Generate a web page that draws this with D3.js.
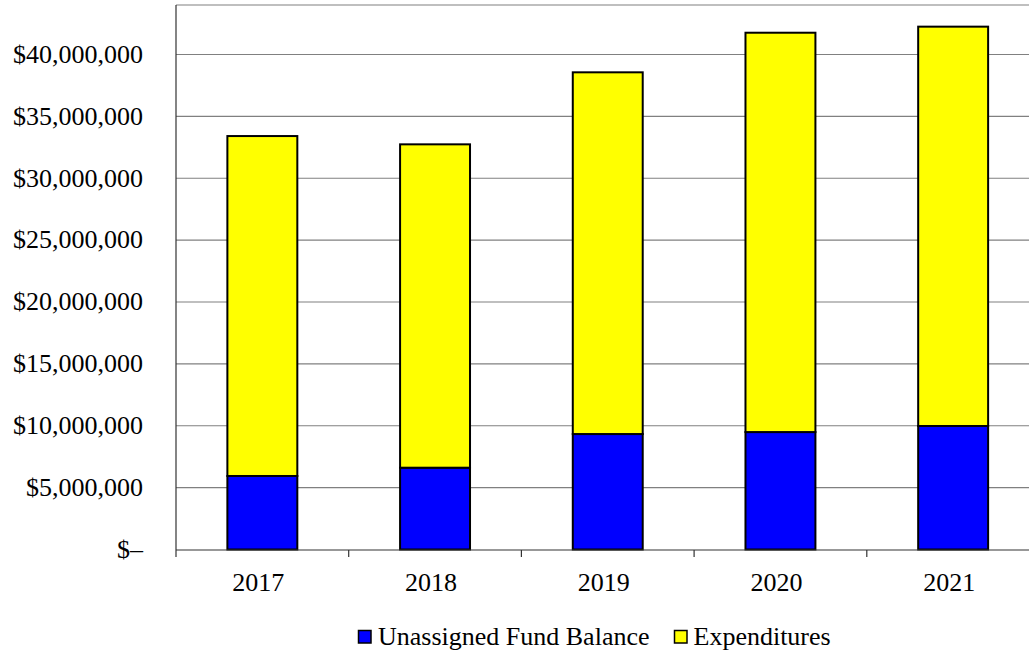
<!DOCTYPE html>
<html>
<head>
<meta charset="utf-8">
<script src="https://cdn.jsdelivr.net/npm/d3@7/dist/d3.min.js"></script>
<style>
  html, body { margin: 0; padding: 0; background: #fff; }
  svg { display: block; }
  text { font-family: "Liberation Serif", "Times New Roman", serif; fill: #000; }
</style>
</head>
<body>
<svg id="chart" width="1029" height="653"></svg>
<script>
const years = ["2017", "2018", "2019", "2020", "2021"];
const fundBalance = [5940000, 6610000, 9330000, 9490000, 9980000];
const expenditures = [27470000, 26130000, 29230000, 32270000, 32270000];
const yTicks = [0, 5000000, 10000000, 15000000, 20000000, 25000000, 30000000, 35000000, 40000000];
const seriesNames = ["Unassigned Fund Balance", "Expenditures"];
const seriesColors = ["#0000FF", "#FFFF00"];

const svg = d3.select("#chart");
const pLeft = 176, pRight = 1039.5, pTop = 5, pBottom = 549.5;

const x = d3.scaleBand().domain(years).range([pLeft, pRight]).padding(0);
const y = d3.scaleLinear().domain([0, 44000000]).range([pBottom, pTop]);

// gridlines
svg.append("g").selectAll("line").data(yTicks.filter(d => d > 0)).join("line")
  .attr("x1", pLeft).attr("x2", pRight)
  .attr("y1", d => y(d)).attr("y2", d => y(d))
  .attr("stroke", "#808080").attr("stroke-width", 1.2);
// top border
svg.append("line").attr("x1", pLeft).attr("x2", pRight).attr("y1", pTop).attr("y2", pTop)
  .attr("stroke", "#808080").attr("stroke-width", 1.2);

// y labels
const fmt = d3.format(",");
svg.append("g").selectAll("text").data(yTicks).join("text")
  .attr("x", 143).attr("y", d => y(d)).attr("dy", "0.32em")
  .attr("text-anchor", "end").attr("font-size", 26)
  .text(d => d === 0 ? "$\u2013" : "$" + fmt(d));

// stacked bars
const data = years.map((yr, i) => ({ year: yr, vals: [fundBalance[i], expenditures[i]] }));
const barW = x.bandwidth() * 0.405;
data.forEach(d => {
  let base = 0;
  d.vals.forEach((v, si) => {
    const cx = x(d.year) + x.bandwidth() / 2;
    svg.append("rect")
      .attr("x", cx - barW / 2)
      .attr("y", y(base + v))
      .attr("width", barW)
      .attr("height", y(base) - y(base + v))
      .attr("fill", seriesColors[si])
      .attr("stroke", "#000").attr("stroke-width", 2);
    base += v;
  });
});

// axes lines
svg.append("line").attr("x1", pLeft).attr("x2", pLeft).attr("y1", pTop).attr("y2", pBottom + 0.5)
  .attr("stroke", "#333").attr("stroke-width", 1.2);
svg.append("line").attr("x1", pLeft).attr("x2", pRight).attr("y1", pBottom + 0.5).attr("y2", pBottom + 0.5)
  .attr("stroke", "#333").attr("stroke-width", 1.2);

// x ticks at band boundaries
const bounds = years.map(yr => x(yr)).concat([x(years[years.length - 1]) + x.bandwidth()]);
svg.append("g").selectAll("line").data(bounds).join("line")
  .attr("x1", d => d).attr("x2", d => d)
  .attr("y1", pBottom + 0.5).attr("y2", pBottom + 7.5)
  .attr("stroke", "#333").attr("stroke-width", 1.2);

// x labels
svg.append("g").selectAll("text").data(years).join("text")
  .attr("x", d => x(d) + x.bandwidth() / 2 - 4)
  .attr("y", 590.7)
  .attr("text-anchor", "middle").attr("font-size", 26)
  .text(d => d);

// legend
const legendItems = [
  { name: seriesNames[0], color: seriesColors[0], bx: 358.5, tx: 378 },
  { name: seriesNames[1], color: seriesColors[1], bx: 674.5, tx: 693.5 }
];
legendItems.forEach(it => {
  svg.append("rect").attr("x", it.bx).attr("y", 630.5).attr("width", 12.5).attr("height", 12.5)
    .attr("fill", it.color).attr("stroke", "#000").attr("stroke-width", 1.5);
  svg.append("text").attr("x", it.tx).attr("y", 645).attr("font-size", 26).text(it.name);
});
</script>
</body>
</html>
